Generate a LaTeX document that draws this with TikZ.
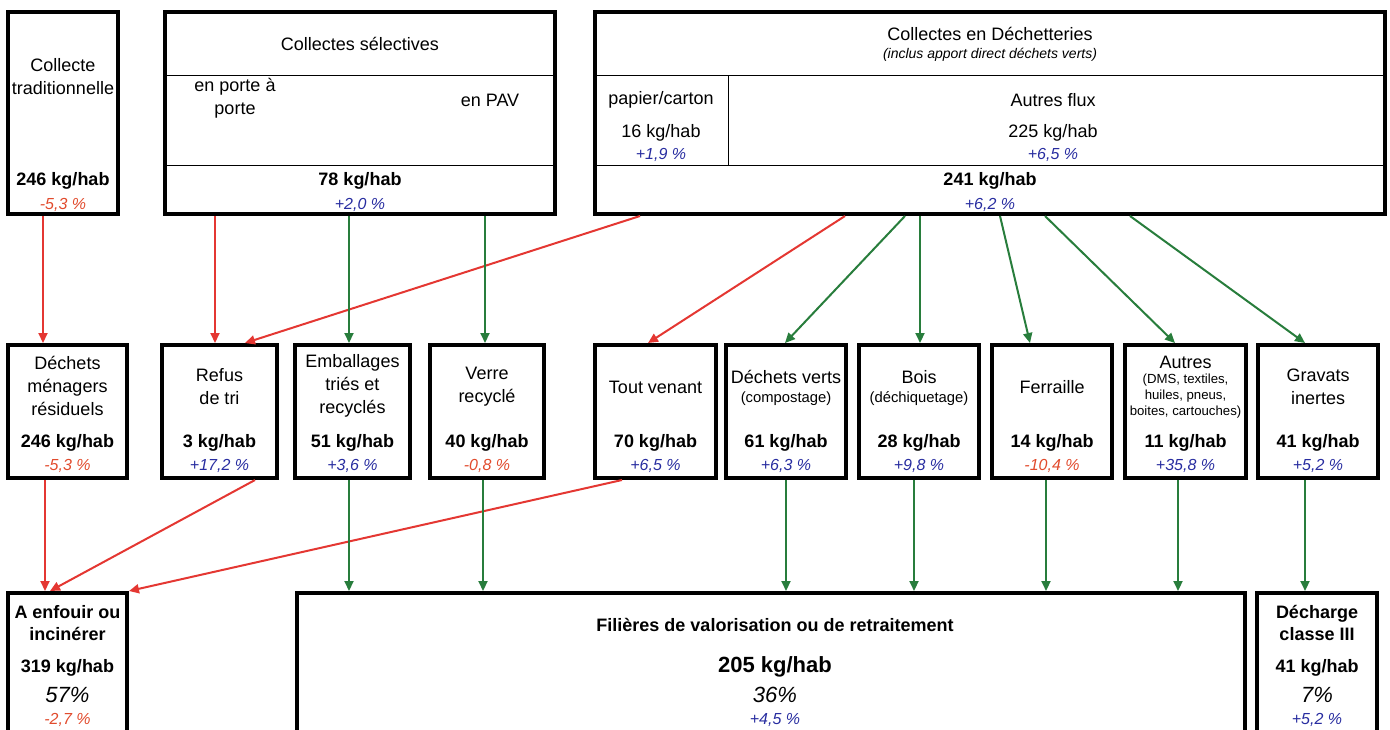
\documentclass[tikz,border=0pt]{standalone}
\usepackage{fontspec}
\setmainfont{Liberation Sans}
\usetikzlibrary{arrows.meta, positioning}

\definecolor{bleu}{RGB}{40,45,160}
\definecolor{rouge}{RGB}{225,75,45}
\definecolor{flechrouge}{RGB}{228,55,50}
\definecolor{flechvert}{RGB}{40,125,60}

\begin{document}
\begin{tikzpicture}[x=0.5pt, y=-0.5pt,
    boite/.style={draw, line width=2pt, inner sep=0pt},
    lbl/.style={font=\fontsize{9}{11.5}\selectfont, align=center, inner sep=0pt},
    kg/.style={font=\bfseries\fontsize{9}{11}\selectfont, align=center, inner sep=0pt},
    hausse/.style={font=\itshape\fontsize{8}{9}\selectfont, text=bleu, inner sep=0pt},
    baisse/.style={font=\itshape\fontsize{8}{9}\selectfont, text=rouge, inner sep=0pt},
    grand/.style={font=\itshape\fontsize{11}{12}\selectfont, inner sep=0pt},
    flr/.style={draw=flechrouge, line width=1pt, -{Triangle[length=5pt,width=4.5pt]}},
    flv/.style={draw=flechvert, line width=1pt, -{Triangle[length=5pt,width=4.5pt]}}
]
    \useasboundingbox (0,0) rectangle (1390,729);
    \clip (0,0) rectangle (1390,729);

    % Collectes (haut)
    \node[boite, minimum width=55pt, minimum height=101pt] (trad) at (63,113) {};
    \node[boite, minimum width=195pt, minimum height=101pt] (sel) at (360,113) {};
    \node[boite, minimum width=395pt, minimum height=101pt] (dech) at (990,113) {};
    \draw[line width=0.5pt] (sel.west |- 0,75) -- (sel.east |- 0,75);
    \draw[line width=0.5pt] (sel.west |- 0,165) -- (sel.east |- 0,165);
    \draw[line width=0.5pt] (dech.west |- 0,75) -- (dech.east |- 0,75);
    \draw[line width=0.5pt] (dech.west |- 0,165) -- (dech.east |- 0,165);
    \draw[line width=0.5pt] (728,75) -- (728,165);

    \node[lbl] (tradt) at (63,77) {Collecte\\traditionnelle};
    \node[kg] at (63,181) {246 kg/hab};
    \node[baisse] at (63,205) {-5,3 \%};

    \node[lbl] (selt) at (360,44) {Collectes sélectives};
    \node[lbl] (ppp) at (235,98) {en porte à\\porte};
    \node[lbl] (pav) at (490,100) {en PAV};
    \node[kg] at (360,181) {78 kg/hab};
    \node[hausse] at (360,205) {+2,0 \%};

    \node[lbl] (decht) at (990,34) {Collectes en Déchetteries};
    \node[lbl, font=\itshape\fontsize{7}{8}\selectfont] at (990,55) {(inclus apport direct déchets verts)};
    \node[lbl] (pap) at (661,100) {papier/carton};
    \node[lbl] at (661,133) {16 kg/hab};
    \node[hausse] at (661,155) {+1,9 \%};
    \node[lbl] (aflux) at (1053,100) {Autres flux};
    \node[lbl] at (1053,133) {225 kg/hab};
    \node[hausse] at (1053,155) {+6,5 \%};
    \node[kg] at (990,181) {241 kg/hab};
    \node[hausse] at (990,205) {+6,2 \%};

    % Flux intermediaires
    \node[boite, minimum width=59.5pt, minimum height=66.5pt] (dmr) at (67.5,411.5) {};
    \node[boite, minimum width=57.5pt, minimum height=66.5pt] (refus) at (219.5,411.5) {};
    \node[boite, minimum width=57.5pt, minimum height=66.5pt] (emb) at (352.5,411.5) {};
    \node[boite, minimum width=57pt, minimum height=66.5pt] (verre) at (487,411.5) {};
    \node[boite, minimum width=60.5pt, minimum height=66.5pt] (tout) at (655.5,411.5) {};
    \node[boite, minimum width=60pt, minimum height=66.5pt] (dv) at (786,411.5) {};
    \node[boite, minimum width=60pt, minimum height=66.5pt] (bois) at (919,411.5) {};
    \node[boite, minimum width=60pt, minimum height=66.5pt] (fer) at (1052,411.5) {};
    \node[boite, minimum width=60.5pt, minimum height=66.5pt] (autres) at (1185.5,411.5) {};
    \node[boite, minimum width=60pt, minimum height=66.5pt] (grav) at (1318,411.5) {};

    \node[lbl] at (67.5,386) {Déchets\\ménagers\\résiduels};
    \node[kg] at (67.5,443) {246 kg/hab};
    \node[baisse] at (67.5,466) {-5,3 \%};

    \node[lbl] at (219.5,387) {Refus\\de tri};
    \node[kg] at (219.5,443) {3 kg/hab};
    \node[hausse] at (219.5,466) {+17,2 \%};

    \node[lbl] at (352.5,386) {Emballages\\triés et\\recyclés};
    \node[kg] at (352.5,443) {51 kg/hab};
    \node[hausse] at (352.5,466) {+3,6 \%};

    \node[lbl] at (487,387) {Verre\\recyclé};
    \node[kg] at (487,443) {40 kg/hab};
    \node[baisse] at (487,466) {-0,8 \%};

    \node[lbl] at (655.5,387) {Tout venant};
    \node[kg] at (655.5,443) {70 kg/hab};
    \node[hausse] at (655.5,466) {+6,5 \%};

    \node[lbl] at (786,377) {Déchets verts};
    \node[lbl, font=\fontsize{7.4}{9}\selectfont] at (786,399) {(compostage)};
    \node[kg] at (786,443) {61 kg/hab};
    \node[hausse] at (786,466) {+6,3 \%};

    \node[lbl] at (919,377) {Bois};
    \node[lbl, font=\fontsize{7.4}{9}\selectfont] at (919,399) {(déchiquetage)};
    \node[kg] at (919,443) {28 kg/hab};
    \node[hausse] at (919,466) {+9,8 \%};

    \node[lbl] at (1052,387) {Ferraille};
    \node[kg] at (1052,443) {14 kg/hab};
    \node[baisse] at (1052,466) {-10,4 \%};

    \node[lbl] at (1185.5,362) {Autres};
    \node[lbl, font=\fontsize{6.6}{8}\selectfont] at (1185.5,396) {(DMS, textiles,\\huiles, pneus,\\boites, cartouches)};
    \node[kg] at (1185.5,443) {11 kg/hab};
    \node[hausse] at (1185.5,466) {+35,8 \%};

    \node[lbl] at (1318,387) {Gravats\\inertes};
    \node[kg] at (1318,443) {41 kg/hab};
    \node[hausse] at (1318,466) {+5,2 \%};

    % Destinations
    \node[boite, minimum width=59.5pt, minimum height=76pt] (enf) at (67.5,669) {};
    \node[boite, minimum width=474pt, minimum height=76pt] (fil) at (771,669) {};
    \node[boite, minimum width=60pt, minimum height=76pt] (decharge) at (1317,669) {};

    \node[kg] at (67.5,623) {A enfouir ou\\incinérer};
    \node[kg] at (67.5,668) {319 kg/hab};
    \node[grand] at (67.5,695) {57\%};
    \node[baisse] at (67.5,720) {-2,7 \%};

    \node[kg] at (775,625) {Filières de valorisation ou de retraitement};
    \node[kg, font=\bfseries\fontsize{11}{12}\selectfont] at (775,667) {205 kg/hab};
    \node[grand] at (775,695) {36\%};
    \node[hausse] at (775,720) {+4,5 \%};

    \node[kg] at (1317,623) {Décharge\\classe III};
    \node[kg] at (1317,668) {41 kg/hab};
    \node[grand] at (1317,695) {7\%};
    \node[hausse] at (1317,720) {+5,2 \%};

    % Fleches rouges
    \draw[flr] (43,0 |- trad.south) -- (43,0 |- dmr.north);
    \draw[flr] (215,0 |- sel.south) -- (215,0 |- refus.north);
    \draw[flr] (640,0 |- dech.south) -- (245,0 |- refus.north);
    \draw[flr] (845,0 |- dech.south) -- (648,0 |- tout.north);
    \draw[flr] (45,0 |- dmr.south) -- (45,0 |- enf.north);
    \draw[flr] (255,0 |- refus.south) -- (50,0 |- enf.north);
    \draw[flr] (622,0 |- tout.south) -- (enf.north east);

    % Fleches vertes
    \draw[flv] (349,0 |- sel.south) -- (349,0 |- emb.north);
    \draw[flv] (485,0 |- sel.south) -- (485,0 |- verre.north);
    \draw[flv] (905,0 |- dech.south) -- (785,0 |- dv.north);
    \draw[flv] (920,0 |- dech.south) -- (920,0 |- bois.north);
    \draw[flv] (1000,0 |- dech.south) -- (1030,0 |- fer.north);
    \draw[flv] (1045,0 |- dech.south) -- (1175,0 |- autres.north);
    \draw[flv] (1130,0 |- dech.south) -- (1305,0 |- grav.north);
    \draw[flv] (349,0 |- emb.south) -- (349,0 |- fil.north);
    \draw[flv] (483,0 |- verre.south) -- (483,0 |- fil.north);
    \draw[flv] (786,0 |- dv.south) -- (786,0 |- fil.north);
    \draw[flv] (914,0 |- bois.south) -- (914,0 |- fil.north);
    \draw[flv] (1046,0 |- fer.south) -- (1046,0 |- fil.north);
    \draw[flv] (1178,0 |- autres.south) -- (1178,0 |- fil.north);
    \draw[flv] (1305,0 |- grav.south) -- (1305,0 |- decharge.north);
\end{tikzpicture}
\end{document}
